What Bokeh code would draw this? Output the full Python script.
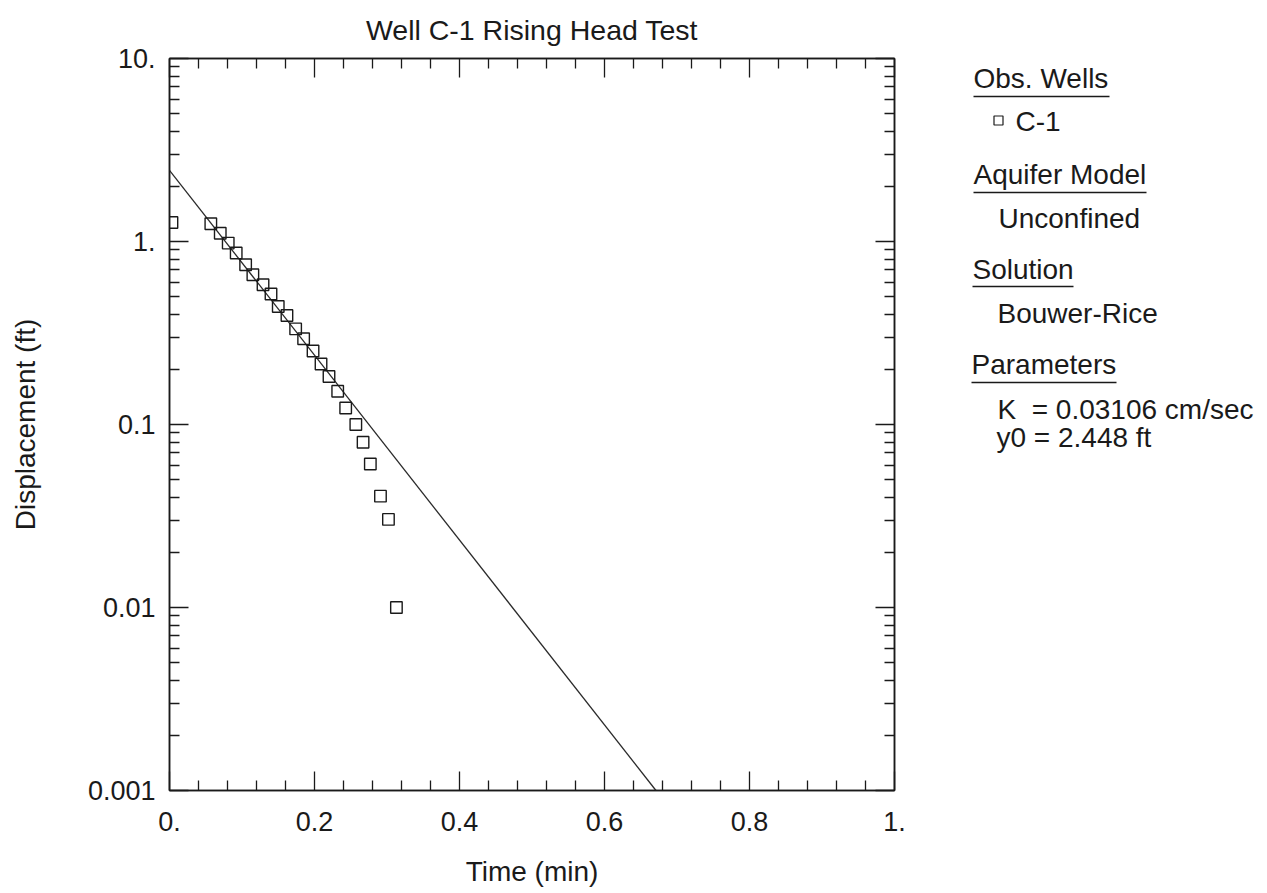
from bokeh.plotting import figure
from bokeh.layouts import row
from bokeh.models import Range1d, LinearAxis, LogAxis, FixedTicker, ColumnDataSource
from bokeh.embed import file_html
from bokeh.resources import INLINE
from bokeh.core.properties import value

# ---------------- data ----------------
time_min = [0.0034, 0.057, 0.070, 0.081, 0.092, 0.105, 0.115, 0.129, 0.140, 0.150,
            0.162, 0.174, 0.185, 0.198, 0.209, 0.220, 0.232, 0.243, 0.257, 0.267,
            0.277, 0.291, 0.302, 0.313]
displacement_ft = [1.27, 1.25, 1.11, 0.98, 0.865, 0.746, 0.658, 0.58, 0.517, 0.441,
                   0.394, 0.333, 0.294, 0.252, 0.214, 0.183, 0.152, 0.123, 0.100, 0.080,
                   0.0608, 0.0406, 0.0303, 0.0100]

# fitted Bouwer-Rice straight line (end points)
fit_time = [0.0, 0.671]
fit_disp = [2.448, 0.001]

x_ticks = [0.0, 0.2, 0.4, 0.6, 0.8, 1.0]
x_tick_labels = ["0.", "0.2", "0.4", "0.6", "0.8", "1."]
x_minor = [0.04, 0.08, 0.12, 0.16, 0.24, 0.28, 0.32, 0.36, 0.44, 0.48, 0.52, 0.56,
           0.64, 0.68, 0.72, 0.76, 0.84, 0.88, 0.92, 0.96]
y_ticks = [0.001, 0.01, 0.1, 1.0, 10.0]
y_tick_labels = ["0.001", "0.01", "0.1", "1.", "10."]
y_minor = [m * d for d in [0.001, 0.01, 0.1, 1.0] for m in range(2, 10)]

title_text = "Well C-1 Rising Head Test"
x_label = "Time (min)"
y_label = "Displacement (ft)"

legend_headings = ["Obs. Wells", "Aquifer Model", "Solution", "Parameters"]
legend_entries = ["C-1", "Unconfined", "Bouwer-Rice", "K\u00a0 = 0.03106 cm/sec", "y0 = 2.448 ft"]

INK = "#1a1a1a"
FONT = "Liberation Sans"

# ---------------- main plot ----------------
p = figure(width=920, height=893, x_range=Range1d(0, 1), y_range=Range1d(0.001, 10),
           y_axis_type="log", output_backend="svg", toolbar_location=None,
           min_border_left=169, min_border_right=26, min_border_top=58, min_border_bottom=103)
p.grid.visible = False
p.outline_line_color = INK
p.outline_line_width = 1.5
p.background_fill_color = "white"
p.border_fill_color = "white"

p.title.text = title_text
p.title.align = "center"
p.title.vertical_align = "top"
p.title.text_font = FONT
p.title.text_font_size = "28.5px"
p.title.text_font_style = "normal"
p.title.text_color = INK
p.title.standoff = 21

top_ax = LinearAxis()
right_ax = LogAxis()
p.add_layout(top_ax, "above")
p.add_layout(right_ax, "right")

x_over = dict(zip(x_ticks, x_tick_labels))
y_over = dict(zip(y_ticks, y_tick_labels))

def style(ax, ticks, minor, overrides, show):
    ax.ticker = FixedTicker(ticks=ticks, minor_ticks=minor)
    ax.major_tick_in = 19
    ax.major_tick_out = 0
    ax.minor_tick_in = 10
    ax.minor_tick_out = 0
    ax.axis_line_color = INK
    ax.axis_line_width = 1.5
    ax.major_tick_line_color = INK
    ax.minor_tick_line_color = INK
    ax.major_tick_line_width = 1.3
    ax.minor_tick_line_width = 1.3
    ax.axis_label_text_font = FONT
    ax.axis_label_text_font_size = "28px"
    ax.axis_label_text_font_style = "normal"
    ax.axis_label_text_color = INK
    if show:
        ax.major_label_overrides = overrides
        ax.major_label_text_font = FONT
        ax.major_label_text_font_size = "27px"
        ax.major_label_text_color = INK
    else:
        ax.major_label_overrides = {k: "" for k in overrides}
        ax.major_label_text_font_size = "0px"
        ax.major_label_standoff = 0
        ax.axis_label_standoff = 0

for ax in p.below:
    style(ax, x_ticks, x_minor, x_over, True)
    ax.major_label_standoff = 21
    ax.axis_label = x_label
    ax.axis_label_standoff = 22
for ax in p.left:
    style(ax, y_ticks, y_minor, y_over, True)
    ax.major_label_standoff = 14
    ax.axis_label = y_label
    ax.axis_label_standoff = 44
style(top_ax, x_ticks, x_minor, x_over, False)
style(right_ax, y_ticks, y_minor, y_over, False)

src = ColumnDataSource(dict(t=time_min, d=displacement_ft))
p.line(fit_time, fit_disp, line_color="#2a2a2a", line_width=1.3)
p.scatter("t", "d", source=src, marker="square", size=11.5, fill_color=None,
          line_color=INK, line_width=1.4)

# ---------------- side legend ----------------
# row() aligns this figure's frame with the main frame (canvas y 58..790),
# so the y range is set so that its coordinates equal canvas pixels.
lg = figure(width=347, height=893, x_range=Range1d(0, 347), y_range=Range1d(790, 58),
            output_backend="svg", toolbar_location=None, min_border=0,
            x_axis_location=None, y_axis_location=None, outline_line_color=None)
lg.grid.visible = False

head_x = [53, 53, 52, 51]
head_y = [78, 174, 269, 364]
ul_y = [96, 192, 286, 382]
ul_x1 = [189, 226, 153, 196]
lg.text(x=head_x, y=head_y, text=legend_headings, text_font=value(FONT),
        text_font_size="28px", text_color=INK, text_baseline="alphabetic")
lg.segment(x0=head_x, y0=ul_y, x1=ul_x1, y1=ul_y, line_color=INK, line_width=1.5)

ent_x = [95, 78, 77, 77, 76]
ent_y = [121, 218, 313, 409, 437]
lg.text(x=ent_x, y=ent_y, text=legend_entries, text_font=value(FONT),
        text_font_size="28px", text_color=INK, text_baseline="alphabetic")
lg.scatter(x=[78], y=[120], marker="square", size=9, fill_color=None,
           line_color=INK, line_width=1.2)

layout = row(p, lg)
open("out.html", "w").write(file_html(layout, INLINE))
